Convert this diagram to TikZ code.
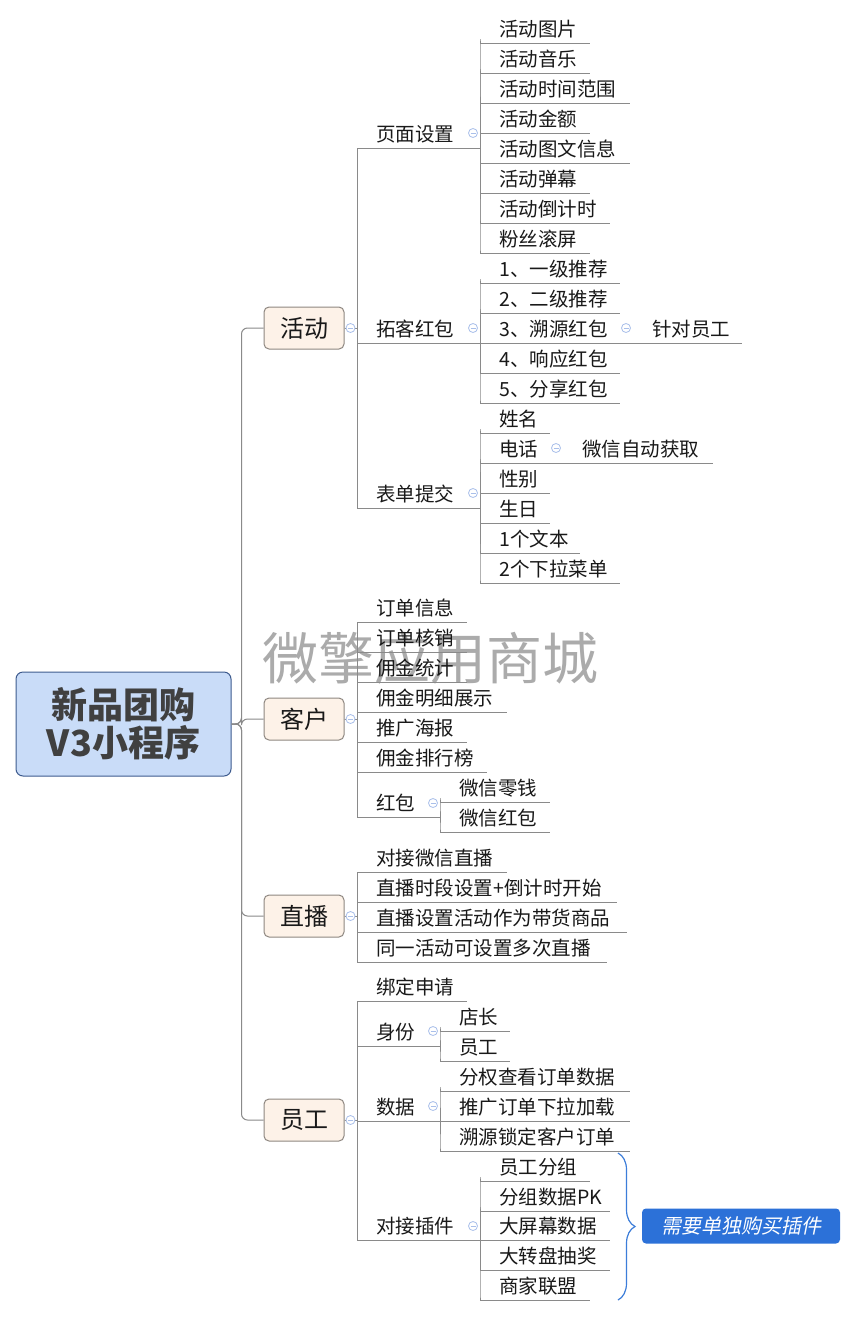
\documentclass[tikz,border=0pt]{standalone}
\usepackage{fontspec}
\newfontfamily\cjk{Noto Sans CJK SC}
\newfontfamily\cjkit[FakeSlant=0.2]{Noto Sans CJK SC}
\usetikzlibrary{calc,decorations.pathreplacing}
\definecolor{lngray}{HTML}{8A8A8A}
\definecolor{mainborder}{HTML}{8E8781}
\definecolor{mainfill}{HTML}{FDF2E8}
\definecolor{rootfill}{HTML}{C9DCF8}
\definecolor{rootborder}{HTML}{3E5B8E}
\definecolor{iconblue}{HTML}{A9BFEA}
\definecolor{wmgray}{HTML}{ABABAB}
\definecolor{notefill}{HTML}{2C71D8}
\definecolor{bracecol}{HTML}{3C7DD9}
\newcommand{\tpc}[6]{%
  \coordinate (#1-l) at (#2,#4);
  \coordinate (#1-r) at (#3,#4);
  \node[tt] (#1) at (#5,#4-6.5) {#6};
  \draw[ln] (#1-l) -- (#1-r);}
\tikzset{
  ln/.style={draw=lngray, line width=1pt},
  tt/.style={font=\cjk\fontsize{19.5}{19.5}\selectfont, text=black!90, inner sep=0pt, anchor=base west},
  mainbox/.style={draw=mainborder, fill=mainfill, rounded corners=5pt, minimum width=80pt, minimum height=42pt, font=\cjk\fontsize{24}{24}\selectfont, text=black!90, inner sep=0pt, line width=1pt},
  rootbox/.style={draw=rootborder, fill=rootfill, rounded corners=7pt, minimum width=215pt, minimum height=104pt, font=\cjk\fontsize{36}{38}\selectfont, text=black!75, align=center, inner sep=0pt, line width=1pt},
  colicon/.style={circle, draw=iconblue, fill=white, minimum size=9pt, inner sep=0pt, line width=0.8pt,
    path picture={\draw[iconblue, line width=0.8pt] ([xshift=-2.5pt]path picture bounding box.center) -- ([xshift=2.5pt]path picture bounding box.center);}},
  notebox/.style={fill=notefill, rounded corners=4pt, minimum width=198pt, minimum height=35pt, font=\cjkit\fontsize{20}{20}\selectfont, text=white, inner sep=0pt},
  wmark/.style={font=\cjk\fontsize{56}{56}\selectfont, text=wmgray, inner sep=0pt},
  rl/.style={ln, rounded corners=4pt},
}
\begin{document}
\begin{tikzpicture}[x=1pt,y=-1pt]
\fill[white] (0,0) rectangle (856,1317);
\useasboundingbox (0,0) rectangle (856,1317);
\node[wmark] (wm) at (430,658) {微擎应用商城};

% root and main topics
\node[rootbox] (root) at (123.5,724) {\bfseries 新品团购\\\bfseries V3小程序};
\node[mainbox] (m1) at (304,328) {活动};
\node[mainbox] (m2) at (304,719) {客户};
\node[mainbox] (m3) at (304,916) {直播};
\node[mainbox] (m4) at (304,1120) {员工};
\foreach \m in {m1,m2,m3,m4}
  \draw[ln, rounded corners=6pt] (root.east) -- ++(10,0) |- (\m.west);

% 活动
\tpc{a1}{357}{480}{148}{376}{页面设置}
\tpc{a2}{357}{480}{343}{376}{拓客红包}
\tpc{a3}{357}{480}{508}{376}{表单提交}
\tpc{a11}{480}{590}{43}{499}{活动图片}
\tpc{a12}{480}{590}{73}{499}{活动音乐}
\tpc{a13}{480}{630}{103}{499}{活动时间范围}
\tpc{a14}{480}{590}{133}{499}{活动金额}
\tpc{a15}{480}{630}{163}{499}{活动图文信息}
\tpc{a16}{480}{590}{193}{499}{活动弹幕}
\tpc{a17}{480}{610}{223}{499}{活动倒计时}
\tpc{a18}{480}{590}{253}{499}{粉丝滚屏}
\tpc{a21}{480}{620}{283}{499}{1、一级推荐}
\tpc{a22}{480}{620}{313}{499}{2、二级推荐}
\tpc{a23}{480}{620}{343}{499}{3、溯源红包}
\tpc{a231}{620}{742}{343}{652}{针对员工}
\tpc{a24}{480}{620}{373}{499}{4、响应红包}
\tpc{a25}{480}{620}{403}{499}{5、分享红包}
\tpc{a31}{480}{550}{433}{499}{姓名}
\tpc{a32}{480}{550}{463}{499}{电话}
\tpc{a321}{550}{713}{463}{582}{微信自动获取}
\tpc{a33}{480}{550}{493}{499}{性别}
\tpc{a34}{480}{550}{523}{499}{生日}
\tpc{a35}{480}{580}{553}{499}{1个文本}
\tpc{a36}{480}{620}{583}{499}{2个下拉菜单}
\foreach \c in {a1,a2,a3} \draw[ln] (m1.east) -- ++(13,0) |- (\c-l);
\foreach \c in {a11,a12,a13,a14,a15,a16,a17,a18} \draw[rl] (a1-r) |- (\c-l);
\foreach \c in {a21,a22,a23,a24,a25} \draw[rl] (a2-r) |- (\c-l);
\draw[ln] (a23-r) -- (a231-l);
\foreach \c in {a31,a32,a33,a34,a35,a36} \draw[rl] (a3-r) |- (\c-l);
\draw[ln] (a32-r) -- (a321-l);

% 客户
\tpc{b1}{357}{467}{622}{376}{订单信息}
\tpc{b2}{357}{467}{652}{376}{订单核销}
\tpc{b3}{357}{467}{682}{376}{佣金统计}
\tpc{b4}{357}{507}{712}{376}{佣金明细展示}
\tpc{b5}{357}{467}{742}{376}{推广海报}
\tpc{b6}{357}{487}{772}{376}{佣金排行榜}
\tpc{b7}{357}{440}{817}{376}{红包}
\tpc{b71}{440}{550}{802}{459}{微信零钱}
\tpc{b72}{440}{550}{832}{459}{微信红包}
\foreach \c in {b1,b2,b3,b4,b5,b6,b7} \draw[ln] (m2.east) -- ++(13,0) |- (\c-l);
\foreach \c in {b71,b72} \draw[rl] (b7-r) |- (\c-l);

% 直播
\tpc{c1}{357}{507}{872}{376}{对接微信直播}
\tpc{c2}{357}{617}{902}{376}{直播时段设置+倒计时开始}
\tpc{c3}{357}{627}{932}{376}{直播设置活动作为带货商品}
\tpc{c4}{357}{607}{962}{376}{同一活动可设置多次直播}
\foreach \c in {c1,c2,c3,c4} \draw[ln] (m3.east) -- ++(13,0) |- (\c-l);

% 员工
\tpc{d1}{357}{467}{1001}{376}{绑定申请}
\tpc{d2}{357}{440}{1046}{376}{身份}
\tpc{d21}{440}{510}{1031}{459}{店长}
\tpc{d22}{440}{510}{1061}{459}{员工}
\tpc{d3}{357}{440}{1121}{376}{数据}
\tpc{d31}{440}{630}{1091}{459}{分权查看订单数据}
\tpc{d32}{440}{630}{1121}{459}{推广订单下拉加载}
\tpc{d33}{440}{630}{1151}{459}{溯源锁定客户订单}
\tpc{d4}{357}{480}{1240}{376}{对接插件}
\tpc{d41}{480}{590}{1181}{499}{员工分组}
\tpc{d42}{480}{610}{1211}{499}{分组数据PK}
\tpc{d43}{480}{610}{1240}{499}{大屏幕数据}
\tpc{d44}{480}{610}{1270}{499}{大转盘抽奖}
\tpc{d45}{480}{590}{1300}{499}{商家联盟}
\foreach \c in {d1,d2,d3,d4} \draw[ln] (m4.east) -- ++(13,0) |- (\c-l);
\foreach \c in {d21,d22} \draw[rl] (d2-r) |- (\c-l);
\foreach \c in {d31,d32,d33} \draw[rl] (d3-r) |- (\c-l);
\foreach \c in {d41,d42,d43,d44,d45} \draw[rl] (d4-r) |- (\c-l);

% collapse icons
\node[colicon] (i1) at ($(m1.east)+(6,0)$) {};
\node[colicon] (i2) at ($(m2.east)+(6,0)$) {};
\node[colicon] (i3) at ($(m3.east)+(6,0)$) {};
\node[colicon] (i4) at ($(m4.east)+(6,0)$) {};
\node[colicon] (ia1) at ($(a1-r)+(-7,-15)$) {};
\node[colicon] (ia2) at ($(a2-r)+(-7,-15)$) {};
\node[colicon] (ia3) at ($(a3-r)+(-7,-15)$) {};
\node[colicon] (ia23) at ($(a23-r)+(6,-15)$) {};
\node[colicon] (ia32) at ($(a32-r)+(6,-15)$) {};
\node[colicon] (ib7) at ($(b7-r)+(-7,-14)$) {};
\node[colicon] (id2) at ($(d2-r)+(-7,-15)$) {};
\node[colicon] (id3) at ($(d3-r)+(-7,-15)$) {};
\node[colicon] (id4) at ($(d4-r)+(-7,-14)$) {};

% brace and note
\coordinate (brt) at (618,1153);
\coordinate (brb) at (618,1300);
\draw[bracecol, line width=1.2pt, decorate, decoration={brace, amplitude=17pt}] (brt) -- (brb);
\node[notebox] (note) at (741,1226) {需要单独购买插件};
\end{tikzpicture}
\end{document}
